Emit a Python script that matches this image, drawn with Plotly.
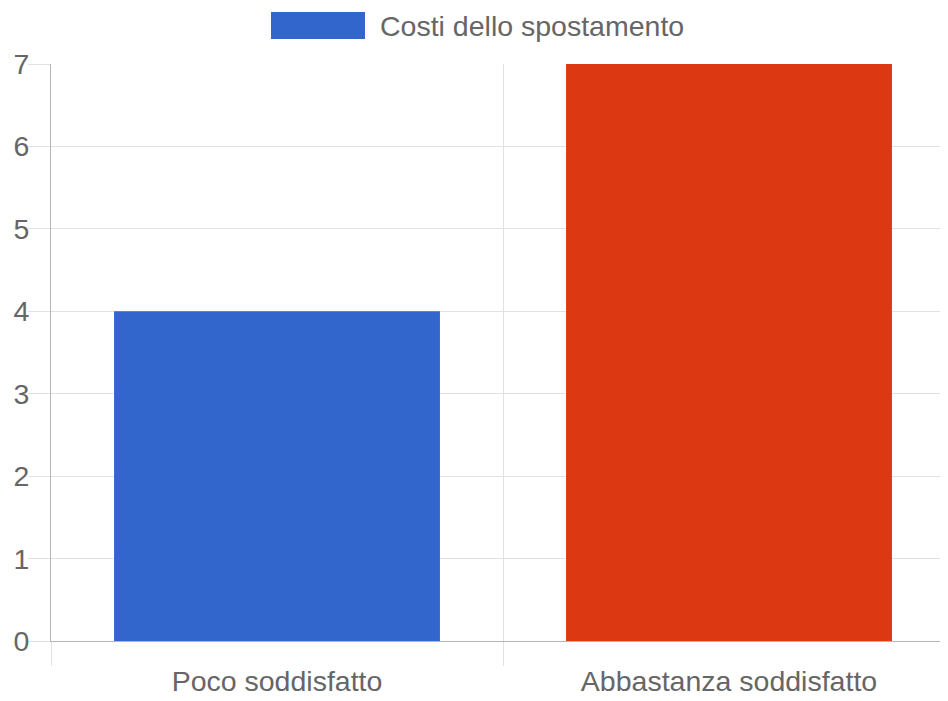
import plotly.graph_objects as go

categories = ["Poco soddisfatto", "Abbastanza soddisfatto"]
values = [4, 7]
bar_colors = ["#3366cc", "#dc3912"]
series_name = "Costi dello spostamento"
y_ticks = [0, 1, 2, 3, 4, 5, 6, 7]

TEXT = "#666666"
GRID = "#e2e2e2"
AXIS = "#b5b5b5"
FONT = "'Liberation Sans', Arial, sans-serif"
FS = 28.5

# page body has an 8px margin; compensate so the plot sits where the reference has it
W, H = 940, 693
ML, MT, MB = 43, 56, 60
PW = W - ML
PH = H - MT - MB

fig = go.Figure()
fig.add_trace(go.Bar(
    x=categories, y=values, name=series_name,
    marker=dict(color=bar_colors, line=dict(width=0)),
    width=0.721, showlegend=False,
))

# legend drawn as box + text (positions in window px -> paper coords)
def px_x(x):
    return (x - 8 - ML) / PW

def px_y(y):
    return 1 + (MT + 8 - y) / PH

fig.add_shape(type="rect", xref="paper", yref="paper",
              x0=px_x(271), x1=px_x(365), y0=px_y(39), y1=px_y(12),
              fillcolor="#3366cc", line=dict(width=0))
fig.add_annotation(text=series_name, xref="paper", yref="paper",
                   x=px_x(378), y=px_y(26),
                   xanchor="left", yanchor="middle", showarrow=False,
                   font=dict(family=FONT, size=FS, color=TEXT))

fig.update_layout(
    width=W, height=H,
    margin=dict(l=ML, r=0, t=MT, b=MB, pad=0),
    paper_bgcolor="white", plot_bgcolor="white",
    font=dict(family=FONT, size=FS, color=TEXT),
)
fig.update_xaxes(
    type="category", range=[-0.5, 1.4845],
    tickson="boundaries", ticks="outside", ticklen=24, tickcolor=GRID, tickwidth=1,
    ticklabelstandoff=15,
    showgrid=True, gridcolor=GRID, gridwidth=1,
    showline=True, linecolor=AXIS, linewidth=1,
    tickfont=dict(family=FONT, size=FS, color=TEXT),
)
fig.update_yaxes(
    range=[0, 7], tickvals=y_ticks, ticks="outside", ticklen=22, tickcolor=GRID,
    ticklabelstandoff=-7,
    showgrid=True, gridcolor=GRID, gridwidth=1,
    showline=True, linecolor=AXIS, linewidth=1,
    zeroline=False,
    tickfont=dict(family=FONT, size=FS, color=TEXT),
)

fig.write_html("out.html")
